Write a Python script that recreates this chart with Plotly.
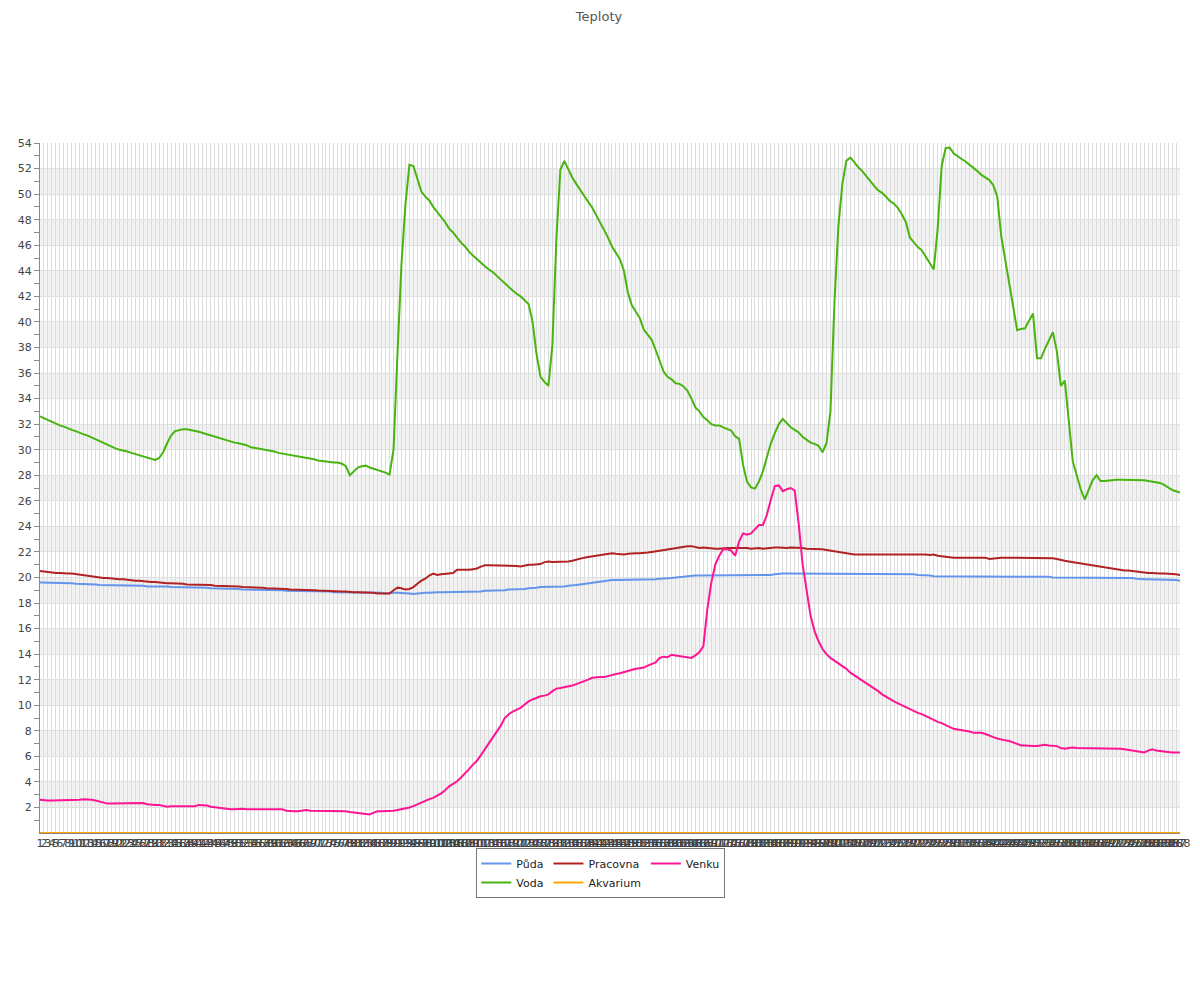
import plotly.graph_objects as go

categories = [str(i) for i in range(1, 289)]

puda = [
    19.6, 19.6, 19.6, 19.6, 19.6, 19.6, 19.55, 19.55, 19.55, 19.5, 19.5, 19.5,
    19.45, 19.45, 19.45, 19.4, 19.4, 19.4, 19.4, 19.4, 19.4, 19.4, 19.4, 19.4,
    19.35, 19.35, 19.35, 19.3, 19.3, 19.35, 19.3, 19.3, 19.3, 19.25, 19.25, 19.25,
    19.2, 19.25, 19.25, 19.2, 19.2, 19.2, 19.2, 19.15, 19.15, 19.15, 19.15, 19.1,
    19.1, 19.1, 19.1, 19.05, 19.05, 19.05, 19.0, 19.0, 19.0, 19.0, 19.0, 19.0,
    19.0, 19.0, 18.95, 18.95, 18.95, 18.95, 18.95, 18.95, 18.9, 18.9, 18.9, 18.9,
    18.9, 18.9, 18.85, 18.85, 18.85, 18.85, 18.85, 18.85, 18.8, 18.8, 18.8, 18.8,
    18.8, 18.8, 18.8, 18.75, 18.8, 18.8, 18.8, 18.8, 18.8, 18.75, 18.7, 18.75,
    18.8, 18.8, 18.8, 18.85, 18.85, 18.85, 18.85, 18.85, 18.85, 18.85, 18.85, 18.85,
    18.85, 18.85, 18.9, 18.9, 18.95, 18.95, 18.95, 19.0, 19.0, 19.0, 19.05, 19.05,
    19.05, 19.1, 19.1, 19.15, 19.15, 19.2, 19.25, 19.25, 19.3, 19.3, 19.3, 19.3,
    19.3, 19.35, 19.35, 19.4, 19.45, 19.5, 19.55, 19.6, 19.6, 19.65, 19.7, 19.75,
    19.8, 19.8, 19.8, 19.8, 19.8, 19.8, 19.8, 19.8, 19.85, 19.85, 19.85, 19.85,
    19.9, 19.9, 19.95, 19.95, 20.0, 20.0, 20.05, 20.1, 20.15, 20.15, 20.15, 20.15,
    20.15, 20.15, 20.15, 20.15, 20.15, 20.2, 20.2, 20.2, 20.2, 20.2, 20.2, 20.2,
    20.2, 20.2, 20.2, 20.2, 20.2, 20.25, 20.3, 20.3, 20.3, 20.3, 20.3, 20.3,
    20.3, 20.3, 20.3, 20.3, 20.3, 20.3, 20.3, 20.3, 20.3, 20.3, 20.3, 20.3,
    20.3, 20.3, 20.3, 20.3, 20.3, 20.3, 20.3, 20.3, 20.3, 20.3, 20.3, 20.25,
    20.25, 20.25, 20.25, 20.25, 20.25, 20.2, 20.2, 20.15, 20.15, 20.1, 20.1, 20.1,
    20.1, 20.1, 20.1, 20.1, 20.1, 20.1, 20.1, 20.1, 20.1, 20.1, 20.1, 20.1,
    20.05, 20.05, 20.05, 20.05, 20.05, 20.05, 20.05, 20.05, 20.05, 20.05, 20.05, 20.05,
    20.05, 20.05, 20.05, 20.0, 20.0, 20.0, 20.0, 20.0, 20.0, 20.0, 20.0, 20.0,
    20.0, 20.0, 20.0, 20.0, 20.0, 20.0, 19.95, 19.95, 19.95, 19.95, 19.95, 19.95,
    19.9, 19.85, 19.85, 19.85, 19.85, 19.85, 19.85, 19.8, 19.8, 19.8, 19.8, 19.75,
]

voda = [
    32.6, 32.45, 32.3, 32.15, 32.0, 31.9, 31.8, 31.65, 31.55, 31.45, 31.3, 31.2,
    31.1, 30.95, 30.8, 30.7, 30.55, 30.4, 30.25, 30.1, 30.0, 29.95, 29.85, 29.75,
    29.65, 29.6, 29.5, 29.4, 29.3, 29.2, 29.35, 29.8, 30.5, 31.1, 31.45, 31.55,
    31.6, 31.6, 31.55, 31.5, 31.4, 31.3, 31.2, 31.1, 31.0, 30.9, 30.85, 30.75,
    30.65, 30.55, 30.5, 30.45, 30.35, 30.2, 30.15, 30.1, 30.0, 29.95, 29.9, 29.85,
    29.75, 29.7, 29.65, 29.55, 29.5, 29.45, 29.4, 29.35, 29.3, 29.25, 29.15, 29.1,
    29.05, 29.0, 29.0, 29.0, 28.9, 28.7, 28.0, 28.3, 28.6, 28.7, 28.75, 28.6,
    28.5, 28.45, 28.3, 28.2, 28.05, 30.0, 37.5, 44.5, 49.2, 52.3, 52.2, 51.2,
    50.2, 49.8, 49.5, 49.0, 48.6, 48.2, 47.8, 47.3, 47.0, 46.6, 46.2, 45.9,
    45.5, 45.2, 44.9, 44.6, 44.35, 44.1, 43.9, 43.6, 43.3, 43.0, 42.7, 42.45,
    42.2, 42.0, 41.7, 41.4, 40.0, 37.5, 35.7, 35.3, 35.0, 38.2, 46.5, 51.9,
    52.6, 51.9, 51.3, 50.8, 50.3, 49.8, 49.4, 48.95, 48.4, 47.8, 47.2, 46.6,
    45.9, 45.4, 44.9, 44.0, 42.3, 41.3, 40.8, 40.3, 39.4, 39.0, 38.6, 37.8,
    37.0, 36.1, 35.7, 35.5, 35.2, 35.15, 34.95, 34.6, 34.0, 33.3, 33.0, 32.55,
    32.3, 32.0, 31.9, 31.9, 31.75, 31.65, 31.5, 31.05, 30.85, 28.8, 27.5, 27.05,
    26.95, 27.5, 28.3, 29.4, 30.5, 31.3, 32.0, 32.4, 32.05, 31.75, 31.55, 31.35,
    31.0, 30.75, 30.55, 30.45, 30.3, 29.8, 30.5, 33.0, 41.5, 47.5, 50.8, 52.6,
    52.85, 52.5, 52.1, 51.8, 51.4, 51.0, 50.65, 50.3, 50.1, 49.8, 49.45, 49.25,
    48.9, 48.4, 47.8, 46.6, 46.2, 45.85, 45.6, 45.1, 44.7, 44.1, 47.3, 52.2,
    53.6, 53.65, 53.2, 52.95, 52.75, 52.55, 52.3, 52.1, 51.8, 51.5, 51.3, 51.1,
    50.7, 49.8, 46.7, 44.8, 42.8, 41.0, 39.35, 39.45, 39.5, 40.1, 40.65, 37.15,
    37.15, 37.9, 38.6, 39.2, 37.7, 35.0, 35.4, 32.5, 29.1, 28.0, 26.9, 26.1,
    26.8, 27.6, 28.0, 27.55, 27.55, 27.6, 27.65, 27.65, 27.65, 27.65, 27.65, 27.65,
    27.65, 27.6, 27.6, 27.55, 27.5, 27.45, 27.4, 27.25, 27.05, 26.85, 26.75, 26.65,
]

pracovna = [
    20.5, 20.45, 20.4, 20.4, 20.35, 20.35, 20.3, 20.3, 20.3, 20.25, 20.2, 20.2,
    20.15, 20.1, 20.05, 20.0, 19.95, 19.95, 19.9, 19.9, 19.85, 19.85, 19.8, 19.8,
    19.75, 19.75, 19.7, 19.7, 19.65, 19.65, 19.6, 19.6, 19.55, 19.55, 19.55, 19.5,
    19.5, 19.45, 19.45, 19.45, 19.4, 19.4, 19.4, 19.4, 19.35, 19.35, 19.35, 19.3,
    19.3, 19.3, 19.3, 19.25, 19.25, 19.25, 19.2, 19.2, 19.2, 19.15, 19.15, 19.15,
    19.1, 19.1, 19.1, 19.05, 19.05, 19.05, 19.0, 19.0, 19.0, 19.0, 18.97, 18.95,
    18.95, 18.95, 18.9, 18.9, 18.9, 18.9, 18.85, 18.85, 18.85, 18.85, 18.8, 18.8,
    18.8, 18.75, 18.75, 18.7, 18.75, 19.0, 19.2, 19.15, 19.05, 19.1, 19.25, 19.5,
    19.75, 19.9, 20.15, 20.3, 20.2, 20.25, 20.3, 20.3, 20.35, 20.6, 20.6, 20.55,
    20.6, 20.65, 20.7, 20.85, 20.95, 20.95, 20.95, 20.95, 20.95, 20.95, 20.95, 20.95,
    20.9, 20.85, 20.95, 21.0, 21.0, 21.0, 21.05, 21.2, 21.25, 21.2, 21.2, 21.2,
    21.25, 21.25, 21.3, 21.4, 21.5, 21.55, 21.6, 21.65, 21.7, 21.75, 21.8, 21.85,
    21.9, 21.85, 21.8, 21.8, 21.85, 21.9, 21.9, 21.9, 21.9, 21.95, 22.0, 22.05,
    22.1, 22.15, 22.2, 22.25, 22.3, 22.4, 22.45, 22.45, 22.45, 22.35, 22.3, 22.35,
    22.3, 22.25, 22.25, 22.25, 22.3, 22.3, 22.3, 22.3, 22.3, 22.35, 22.3, 22.25,
    22.3, 22.3, 22.25, 22.3, 22.3, 22.35, 22.35, 22.3, 22.3, 22.35, 22.35, 22.3,
    22.3, 22.25, 22.25, 22.2, 22.2, 22.2, 22.15, 22.1, 22.05, 22.0, 21.9, 21.85,
    21.8, 21.8, 21.8, 21.8, 21.8, 21.8, 21.8, 21.8, 21.8, 21.8, 21.8, 21.8,
    21.8, 21.8, 21.8, 21.8, 21.8, 21.85, 21.85, 21.8, 21.75, 21.8, 21.7, 21.65,
    21.6, 21.55, 21.55, 21.55, 21.55, 21.55, 21.55, 21.55, 21.55, 21.55, 21.55, 21.45,
    21.5, 21.55, 21.55, 21.55, 21.55, 21.55, 21.55, 21.55, 21.55, 21.55, 21.55, 21.55,
    21.55, 21.55, 21.55, 21.5, 21.45, 21.35, 21.3, 21.25, 21.2, 21.15, 21.05, 21.0,
    20.95, 20.9, 20.85, 20.8, 20.75, 20.7, 20.65, 20.6, 20.6, 20.55, 20.55, 20.5,
    20.45, 20.4, 20.4, 20.35, 20.35, 20.3, 20.3, 20.3, 20.3, 20.3, 20.25, 20.2,
]

akvarium = [
    0, 0, 0, 0, 0, 0, 0, 0, 0, 0, 0, 0, 0, 0, 0, 0, 0, 0, 0, 0, 0, 0, 0, 0,
    0, 0, 0, 0, 0, 0, 0, 0, 0, 0, 0, 0, 0, 0, 0, 0, 0, 0, 0, 0, 0, 0, 0, 0,
    0, 0, 0, 0, 0, 0, 0, 0, 0, 0, 0, 0, 0, 0, 0, 0, 0, 0, 0, 0, 0, 0, 0, 0,
    0, 0, 0, 0, 0, 0, 0, 0, 0, 0, 0, 0, 0, 0, 0, 0, 0, 0, 0, 0, 0, 0, 0, 0,
    0, 0, 0, 0, 0, 0, 0, 0, 0, 0, 0, 0, 0, 0, 0, 0, 0, 0, 0, 0, 0, 0, 0, 0,
    0, 0, 0, 0, 0, 0, 0, 0, 0, 0, 0, 0, 0, 0, 0, 0, 0, 0, 0, 0, 0, 0, 0, 0,
    0, 0, 0, 0, 0, 0, 0, 0, 0, 0, 0, 0, 0, 0, 0, 0, 0, 0, 0, 0, 0, 0, 0, 0,
    0, 0, 0, 0, 0, 0, 0, 0, 0, 0, 0, 0, 0, 0, 0, 0, 0, 0, 0, 0, 0, 0, 0, 0,
    0, 0, 0, 0, 0, 0, 0, 0, 0, 0, 0, 0, 0, 0, 0, 0, 0, 0, 0, 0, 0, 0, 0, 0,
    0, 0, 0, 0, 0, 0, 0, 0, 0, 0, 0, 0, 0, 0, 0, 0, 0, 0, 0, 0, 0, 0, 0, 0,
    0, 0, 0, 0, 0, 0, 0, 0, 0, 0, 0, 0, 0, 0, 0, 0, 0, 0, 0, 0, 0, 0, 0, 0,
    0, 0, 0, 0, 0, 0, 0, 0, 0, 0, 0, 0, 0, 0, 0, 0, 0, 0, 0, 0, 0, 0, 0, 0,
]

venku = [
    2.6, 2.55, 2.55, 2.55, 2.55, 2.6, 2.6, 2.55, 2.55, 2.55, 2.6, 2.65,
    2.65, 2.6, 2.55, 2.45, 2.35, 2.3, 2.3, 2.3, 2.3, 2.35, 2.35, 2.35,
    2.35, 2.35, 2.35, 2.25, 2.2, 2.2, 2.2, 2.1, 2.05, 2.1, 2.1, 2.05,
    2.1, 2.1, 2.05, 2.1, 2.2, 2.2, 2.15, 2.05, 2.0, 1.95, 1.95, 1.9,
    1.85, 1.85, 1.9, 1.9, 1.85, 1.85, 1.9, 1.9, 1.9, 1.85, 1.85, 1.85,
    1.9, 1.85, 1.75, 1.7, 1.7, 1.7, 1.75, 1.8, 1.75, 1.75, 1.7, 1.7,
    1.7, 1.7, 1.7, 1.7, 1.7, 1.7, 1.65, 1.6, 1.55, 1.55, 1.5, 1.45,
    1.6, 1.7, 1.7, 1.7, 1.7, 1.75, 1.8, 1.85, 1.95, 2.0, 2.1, 2.25,
    2.35, 2.5, 2.65, 2.75, 2.9, 3.1, 3.35, 3.65, 3.85, 4.05, 4.35, 4.65,
    5.0, 5.35, 5.65, 6.1, 6.55, 7.0, 7.45, 7.85, 8.4, 9.0, 9.3, 9.5,
    9.65, 9.8, 10.05, 10.3, 10.45, 10.6, 10.7, 10.75, 10.85, 11.1, 11.3, 11.35,
    11.4, 11.5, 11.55, 11.65, 11.75, 11.85, 12.0, 12.15, 12.2, 12.2, 12.2, 12.3,
    12.4, 12.45, 12.5, 12.6, 12.65, 12.75, 12.85, 12.9, 12.95, 13.1, 13.2, 13.35,
    13.7, 13.8, 13.75, 13.95, 13.9, 13.85, 13.8, 13.75, 13.7, 13.9, 14.15, 14.6,
    17.5, 19.6, 21.0, 21.7, 22.2, 22.2, 22.1, 21.7, 22.8, 23.45, 23.35, 23.45,
    23.8, 24.1, 24.1, 24.9, 26.1, 27.15, 27.2, 26.75, 26.9, 27.0, 26.8, 24.2,
    21.0, 18.8, 17.0, 15.8, 15.0, 14.4, 14.0, 13.7, 13.5, 13.3, 13.1, 12.85,
    12.55, 12.35, 12.15, 11.95, 11.7, 11.5, 11.35, 11.1, 10.85, 10.65, 10.45, 10.3,
    10.15, 10.0, 9.85, 9.65, 9.5, 9.4, 9.3, 9.15, 8.95, 8.8, 8.7, 8.6,
    8.45, 8.25, 8.15, 8.1, 8.05, 8.05, 7.95, 7.85, 7.85, 7.85, 7.75, 7.6,
    7.5, 7.4, 7.3, 7.25, 7.2, 7.1, 6.95, 6.85, 6.85, 6.8, 6.8, 6.8,
    6.85, 6.9, 6.85, 6.85, 6.8, 6.65, 6.6, 6.65, 6.7, 6.65, 6.65, 6.65,
    6.65, 6.65, 6.65, 6.65, 6.65, 6.65, 6.6, 6.6, 6.6, 6.55, 6.5, 6.45,
    6.4, 6.35, 6.3, 6.45, 6.55, 6.45, 6.4, 6.4, 6.35, 6.3, 6.3, 6.3,
]

y_tick_values = list(range(2, 55, 2))
y_minor_values = list(range(1, 55, 2))

series = [
    ("Půda", puda, "#6495ED", "g1"),
    ("Voda", voda, "#48b410", "g1"),
    ("Pracovna", pracovna, "#b22222", "g2"),
    ("Akvarium", akvarium, "#ffa500", "g2"),
    ("Venku", venku, "#ff1493", "g3"),
]

FONT = "DejaVu Sans"

fig = go.Figure()
for name, vals, color, grp in series:
    fig.add_trace(go.Scatter(
        x=categories, y=vals, name=name, mode="lines",
        line=dict(color=color, width=2),
        legendgroup=grp,
        cliponaxis=False,
    ))

shapes = []
for lo in range(2, 54, 4):
    shapes.append(dict(
        type="rect", xref="paper", yref="y", x0=0, x1=1, y0=lo, y1=lo + 2,
        fillcolor="#f2f2f2", line=dict(width=0), layer="below",
    ))

fig.update_layout(
    width=1200, height=1000,
    margin=dict(l=32, r=28, t=135, b=175, autoexpand=False),
    paper_bgcolor="white", plot_bgcolor="white",
    font=dict(family=FONT, size=11, color="#444"),
    title=dict(text="Teploty", x=0.4925, xref="container", xanchor="center",
               y=0.996, yref="container", yanchor="top",
               font=dict(family=FONT, size=13, color="#555")),
    shapes=shapes,
    showlegend=True,
    legend=dict(
        orientation="h", traceorder="grouped", tracegroupgap=4,
        xref="container", x=0.494, xanchor="center",
        yref="container", y=0.16, yanchor="top",
        bordercolor="#777", borderwidth=1, bgcolor="white",
        font=dict(family=FONT, size=11, color="#222"),
        itemwidth=30,
    ),
    xaxis=dict(
        type="category", range=[0, len(categories) - 1],
        tickmode="array", tickvals=categories, ticktext=categories,
        tickangle=0, ticks="", showgrid=True, gridcolor="#dcdcdc", gridwidth=1,
        showline=True, linecolor="#888", linewidth=1,
        tickfont=dict(family=FONT, size=11, color="#444"),
        zeroline=False, fixedrange=True,
    ),
    yaxis=dict(
        range=[0, 54], tickmode="array", tickvals=y_tick_values,
        ticks="outside", ticklen=5, tickcolor="#888", tickwidth=1,
        showgrid=True, gridcolor="#e0e0e0", gridwidth=1,
        showline=True, linecolor="#888", linewidth=1,
        zeroline=False,
        minor=dict(tickvals=y_minor_values, ticks="outside", ticklen=5,
                   tickcolor="#888", showgrid=False),
        tickfont=dict(family=FONT, size=11, color="#444"),
        fixedrange=True,
    ),
)

fig.write_html("out.html")
